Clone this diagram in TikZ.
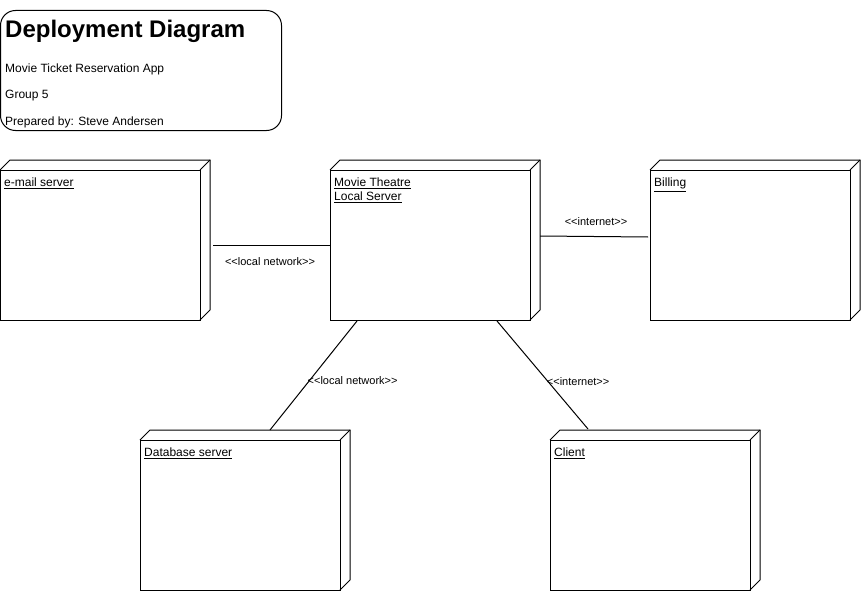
\documentclass[tikz,border=0pt]{standalone}
\usepackage{fontspec}
\setmainfont{Liberation Sans}
\usetikzlibrary{calc}
\newcommand\lgl{<\kern0pt<}
\newcommand\ggr{>\kern0pt>}
\tikzset{
  devnode/.style={draw=black, line width=1pt, fill=white, minimum width=200pt, minimum height=150pt, inner sep=0pt, outer sep=0pt},
  devlabel/.style={anchor=north west, inner sep=0pt, align=left, font=\fontsize{12}{14}\selectfont},
  conn/.style={draw=black, line width=1pt},
  connlabel/.style={inner sep=0pt, font=\fontsize{11}{13}\selectfont},
  titletext/.style={anchor=base west, inner sep=0pt, font=\fontsize{12}{14}\selectfont}
}
\newcommand\depthbox[1]{%
  \draw[line width=1pt, line join=miter] (#1.north west) -- ++(10,-10) -- ($(#1.north east)+(10,-10)$) -- ($(#1.south east)+(10,-10)$) -- (#1.south east);
  \draw[line width=1pt] (#1.north east) -- ++(10,-10);
}
\begin{document}
\begin{tikzpicture}[x=1pt,y=-1pt]
\useasboundingbox (0,0) rectangle (861,591);
% title box
\node[draw=black, line width=1pt, rounded corners=15pt, minimum width=281pt, minimum height=120pt, anchor=north west, inner sep=0pt] (titlebox) at (0,10) {};
\node[anchor=base west, inner sep=0pt, font=\fontsize{24}{28}\selectfont\bfseries] (title) at (5,38) {Deployment Diagram};
\node[titletext] (app) at (5,73) {Movie Ticket Reservation App};
\node[titletext] (grp) at (5,99) {Group 5};
\node[titletext] (prep) at (5,125) {Prepared by: Steve Andersen};
% nodes (front faces)
\node[devnode, anchor=north west] (email) at (0,170) {};
\node[devnode, anchor=north west] (theatre) at (330,170) {};
\node[devnode, anchor=north west] (billing) at (650,170) {};
\node[devnode, anchor=north west] (db) at (140,440) {};
\node[devnode, anchor=north west] (client) at (550,440) {};
\depthbox{email}
\depthbox{theatre}
\depthbox{billing}
\depthbox{db}
\depthbox{client}
% labels
\node[devlabel] (emaillbl) at ($(email.north west)+(4,8)$) {\underline{e-mail server}};
\node[devlabel] (theatrelbl) at ($(theatre.north west)+(4,8)$) {\underline{Movie Theatre}\\\underline{Local Server}};
\node[devlabel] (billinglbl) at ($(billing.north west)+(4,8)$) {\underline{Billing}};
\node[devlabel] (dblbl) at ($(db.north west)+(4,8)$) {\underline{Database server}};
\node[devlabel] (clientlbl) at ($(client.north west)+(4,8)$) {\underline{Client}};
% connectors
\draw[conn] ($(email.east)+(13,0)$) -- (theatre.west)
  node[connlabel, midway, yshift=-16.5pt, xshift=-1.5pt] (l1) {\lgl local network\ggr};
\draw[conn] ($(theatre.east)+(10,-9)$) -- ($(billing.west)+(-2,-8)$)
  node[connlabel, midway, yshift=15pt, xshift=2pt] (l2) {\lgl internet\ggr};
\draw[conn] ($(theatre.south)+(-73,1)$) -- ($(db.north)+(30,-10)$)
  node[connlabel, pos=0.55, anchor=west, xshift=-2pt] (l3) {\lgl local network\ggr};
\draw[conn] ($(theatre.south)+(67,1)$) -- ($(client.north)+(-62,-11)$)
  node[connlabel, pos=0.565, anchor=west, xshift=-2pt] (l4) {\lgl internet\ggr};
\end{tikzpicture}
\end{document}
